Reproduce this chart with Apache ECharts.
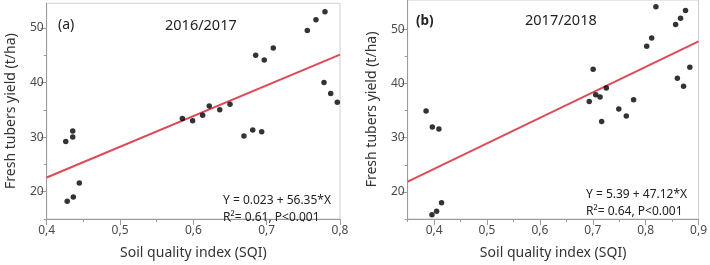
<!DOCTYPE html>
<html>
<head>
<meta charset="utf-8">
<script src="https://cdn.jsdelivr.net/npm/echarts@6/dist/echarts.min.js"></script>
<style>
  html, body { margin: 0; padding: 0; background: #fff; }
  #main { width: 710px; height: 265px; }
</style>
</head>
<body>
<div id="main"></div>
<script>
// (a) 2016/2017
var sqi_a = [0.426, 0.4355, 0.4355, 0.4445, 0.4363, 0.428, 0.585, 0.599, 0.6127, 0.6217, 0.636, 0.65,
             0.669, 0.681, 0.6932, 0.685, 0.6967, 0.709, 0.7554, 0.7672, 0.7795, 0.7782, 0.7873, 0.7963];
var yield_a = [29.2, 31.1, 30.0, 21.6, 19.05, 18.25, 33.4, 33.0, 34.0, 35.7, 35.0, 36.0,
               30.2, 31.3, 31.0, 45.0, 44.1, 46.3, 49.5, 51.5, 52.95, 40.0, 38.0, 36.4];
var fit_a_x = [0.4, 0.8];
var fit_a_y = [22.6, 45.1];

// (b) 2017/2018
var sqi_b = [0.3847, 0.3966, 0.409, 0.3959, 0.4047, 0.414, 0.7007, 0.6933, 0.7056, 0.7138, 0.7256, 0.7168,
             0.7492, 0.7634, 0.7772, 0.802, 0.8114, 0.8194, 0.8567, 0.866, 0.8754, 0.86, 0.8717, 0.8836];
var yield_b = [34.95, 32.0, 31.6, 15.8, 16.45, 18.0, 42.65, 36.7, 37.95, 37.5, 39.2, 33.0,
               35.3, 34.0, 37.0, 46.9, 48.4, 54.2, 50.9, 52.05, 53.5, 41.0, 39.5, 43.0];
var fit_b_x = [0.35, 0.9];
var fit_b_y = [21.9, 47.8];

var x_ticks_a = [0.4, 0.5, 0.6, 0.7, 0.8];
var x_minor_a = [0.45, 0.55, 0.65, 0.75];
var x_ticks_b = [0.4, 0.5, 0.6, 0.7, 0.8, 0.9];
var x_minor_b = [0.35, 0.45, 0.55, 0.65, 0.75, 0.85];
var y_ticks = [20, 30, 40, 50];
var y_minor = [15, 25, 35, 45];

var font = 'Noto Sans';
var labelColor = '#4a4a4a';

function pairs(xs, ys){
    var out = [];
    for (var i = 0; i < xs.length; i++){
        out.push([xs[i], ys[i]]);
    }
    return out;
}

function xAxes(idx, min, max, ticks, minor){
    return [
        {
            type: 'value', gridIndex: idx, min: min, max: max,
            name: 'Soil quality index (SQI)', nameLocation: 'middle', nameGap: 27,
            nameTextStyle: {fontFamily: font, fontSize: 14, color: '#333'},
            axisLine: {show: true, lineStyle: {color: '#9a9a9a'}},
            axisTick: {show: true, customValues: ticks, length: 6, lineStyle: {color: '#9a9a9a'}},
            axisLabel: {show: true, customValues: ticks, margin: 6, fontFamily: font, fontSize: 12, color: labelColor,
                formatter: function(v){ return v.toFixed(1).replace('.', ','); }},
            splitLine: {show: false}
        },
        {
            type: 'value', gridIndex: idx, min: min, max: max, position: 'bottom',
            axisLine: {show: false},
            axisTick: {show: true, customValues: minor, length: 3, lineStyle: {color: '#9a9a9a'}},
            axisLabel: {show: false},
            splitLine: {show: false}
        }
    ];
}

function yAxes(idx, min, max){
    return [
        {
            type: 'value', gridIndex: idx, min: min, max: max,
            name: 'Fresh tubers yield (t/ha)', nameLocation: 'middle', nameGap: 29,
            nameTextStyle: {fontFamily: font, fontSize: 14, color: '#333'},
            axisLine: {show: true, lineStyle: {color: '#9a9a9a'}},
            axisTick: {show: true, customValues: y_ticks, length: 6, lineStyle: {color: '#9a9a9a'}},
            axisLabel: {show: true, customValues: y_ticks, margin: 3, fontFamily: font, fontSize: 12, color: labelColor},
            splitLine: {show: false}
        },
        {
            type: 'value', gridIndex: idx, min: min, max: max, position: 'left',
            axisLine: {show: false},
            axisTick: {show: true, customValues: y_minor, length: 3, lineStyle: {color: '#9a9a9a'}},
            axisLabel: {show: false},
            splitLine: {show: false}
        }
    ];
}

function txt(x, y, s, size, weight){
    return {
        type: 'text', left: x, top: y, z: 10,
        style: {text: s, fontFamily: font, fontSize: size, fontWeight: weight || 'normal',
                fill: '#222', verticalAlign: 'middle'}
    };
}

var chart = echarts.init(document.getElementById('main'), null, {renderer: 'canvas'});
var option = {
    animation: false,
    backgroundColor: '#fff',
    grid: [
        {left: 46.7, right: 370, top: 3.3, bottom: 43.3, show: true, borderColor: '#cfcfcf', borderWidth: 1},
        {left: 407.7, right: 7.5, top: -2, bottom: 43.3, show: true, borderColor: '#cfcfcf', borderWidth: 1}
    ],
    xAxis: xAxes(0, 0.4, 0.8, x_ticks_a, x_minor_a).concat(xAxes(1, 0.35, 0.9, x_ticks_b, x_minor_b)),
    yAxis: yAxes(0, 15, 54.5).concat(yAxes(1, 15, 55.43)),
    series: [
        {
            type: 'line', xAxisIndex: 0, yAxisIndex: 0, data: pairs(fit_a_x, fit_a_y),
            showSymbol: false, lineStyle: {color: '#dc4b58', width: 2}, z: 2
        },
        {
            type: 'scatter', xAxisIndex: 0, yAxisIndex: 0, data: pairs(sqi_a, yield_a),
            symbolSize: 5.5, itemStyle: {color: '#000'}, z: 3
        },
        {
            type: 'line', xAxisIndex: 2, yAxisIndex: 2, data: pairs(fit_b_x, fit_b_y),
            showSymbol: false, lineStyle: {color: '#dc4b58', width: 2}, z: 2
        },
        {
            type: 'scatter', xAxisIndex: 2, yAxisIndex: 2, data: pairs(sqi_b, yield_b),
            symbolSize: 5.5, itemStyle: {color: '#000'}, z: 3
        }
    ],
    graphic: [
        txt(58, 18, '(a)', 14, 'normal'),
        txt(165, 18, '2016/2017', 14.5, 'normal'),
        txt(223, 195, 'Y = 0.023 + 56.35*X', 12),
        txt(223, 212, 'R\u00b2= 0.61, P<0.001', 12),
        txt(416, 14, '(b)', 13.5, 'bold'),
        txt(525, 13, '2017/2018', 14.5, 'normal'),
        txt(586, 188.5, 'Y = 5.39 + 47.12*X', 12),
        txt(586, 206, 'R\u00b2= 0.64, P<0.001', 12)
    ]
};
chart.setOption(option);
</script>
</body>
</html>
